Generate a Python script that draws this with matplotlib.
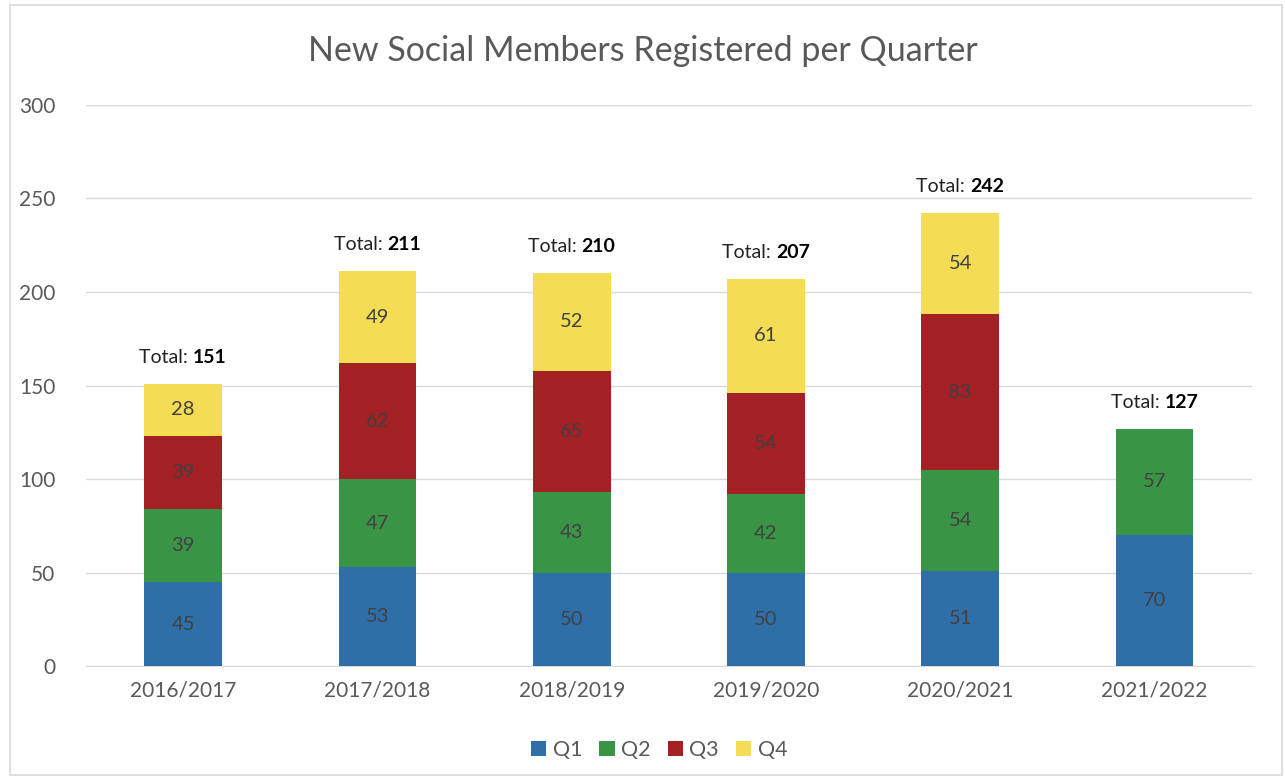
import matplotlib
matplotlib.use("Agg")
import matplotlib.pyplot as plt
import numpy as np
from matplotlib.offsetbox import TextArea, HPacker, AnnotationBbox
from matplotlib.patches import Rectangle

seasons = ["2016/2017", "2017/2018", "2018/2019", "2019/2020", "2020/2021", "2021/2022"]
q1 = [45, 53, 50, 50, 51, 70]
q2 = [39, 47, 43, 42, 54, 57]
q3 = [39, 62, 65, 54, 83, 0]
q4 = [28, 49, 52, 61, 54, 0]
quarters = ["Q1", "Q2", "Q3", "Q4"]
colors = ["#2E6FA8", "#3A9445", "#A32024", "#F4DC55"]

plt.rcParams["font.family"] = ["Lato", "DejaVu Sans"]

fig = plt.figure(figsize=(12.85, 7.82), dpi=100)
ax = fig.add_axes([0.067, 0.148, 0.907, 0.718])

# outer border like the spreadsheet chart area
fig.patches.append(Rectangle((0.008, 0.009), 0.99, 0.985, transform=fig.transFigure,
                             fill=False, edgecolor="#D9D9D9", linewidth=1.2))

x = np.arange(len(seasons))
bottom = np.zeros(len(seasons))
for name, vals, col in zip(quarters, [q1, q2, q3, q4], colors):
    vals = np.array(vals, dtype=float)
    ax.bar(x, vals, 0.4, bottom=bottom, color=col, label=name, zorder=3)
    for xi, v, b in zip(x, vals, bottom):
        if v > 0:
            ax.text(xi, b + v / 2, f"{int(v)}", ha="center", va="center",
                    fontsize=14.5, color="#404040", zorder=4)
    bottom += vals

for xi, tot in zip(x, bottom):
    box = HPacker(children=[
        TextArea("Total: ", textprops=dict(fontsize=14, color="#222222")),
        TextArea(f"{int(tot)}", textprops=dict(fontsize=14, color="black", fontweight="bold")),
    ], pad=0, sep=0, align="baseline")
    ab = AnnotationBbox(box, (xi, tot), xybox=(0, 19), xycoords="data",
                        boxcoords="offset points", frameon=False, box_alignment=(0.5, 0.5))
    ax.add_artist(ab)

ax.set_xlim(-0.5, len(seasons) - 0.5)
ax.set_ylim(0, 300)
ax.set_yticks(np.arange(0, 301, 50))
ax.set_xticks(x)
ax.set_xticklabels(seasons)
ax.tick_params(axis="both", length=0, labelsize=15, labelcolor="#595959", pad=10)
ax.tick_params(axis="y", pad=22)
ax.grid(axis="y", color="#D9D9D9", linewidth=1, zorder=0)
for s in ["top", "right", "left"]:
    ax.spines[s].set_visible(False)
ax.spines["bottom"].set_color("#D9D9D9")

fig.text(0.5, 0.935, "New Social Members Registered per Quarter", ha="center", va="center",
         fontsize=24.5, color="#595959")

fig.legend(loc="center", bbox_to_anchor=(0.513, 0.041), ncol=4, frameon=False,
           fontsize=15.5, labelcolor="#595959", handlelength=0.7, handleheight=0.7,
           handletextpad=0.3, columnspacing=0.8)

fig.savefig("out.png", dpi=100)
